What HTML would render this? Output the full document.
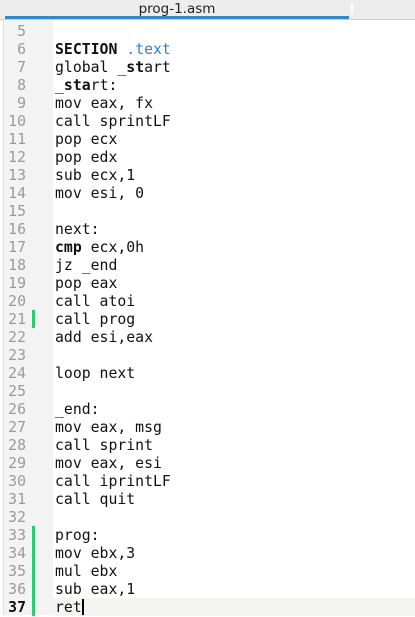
<!DOCTYPE html>
<html><head><style>
body{margin:0;width:415px;height:615px;overflow:hidden;background:#fff;position:relative;font-family:"DejaVu Sans Mono",monospace}
.tabbar{position:absolute;left:0;top:0;width:415px;height:19px;background:#ededed;border-bottom:1px solid #cfcfcf}
.tab{position:absolute;left:5px;top:0;width:344px;height:16px;border-bottom:3px solid #3288c8;box-sizing:content-box}
.title{position:absolute;left:0;width:344px;top:1px;text-align:center;font-family:"DejaVu Sans",sans-serif;font-size:13.5px;color:#222}
.sep{position:absolute;left:351px;top:4px;width:2px;height:10px;background:#fff}
.gutter{position:absolute;left:3px;top:20px;width:49px;height:595px;background:#f3f3f3;border-left:1px solid #ddd}
.row{position:absolute;left:0;height:18px;line-height:18px;width:415px;font-size:14.8px;white-space:pre}
.num{position:absolute;top:1px;right:389px;color:#9a9a9a;text-align:right}
.code{position:absolute;top:1px;left:55px;color:#111}
.mark{position:absolute;left:32px;top:0;width:3px;height:18px;background:#2ecc71}
b{font-weight:bold}
.blue{color:#2a7fd0}
.cur{background:#f5f4f3}
</style></head><body>
<div class="tabbar"><div class="tab"><div class="title">prog-1.asm</div></div><div class="sep"></div></div>
<div class="gutter"></div>
<div class="row" style="top:22px"><span class="num">5</span></div>
<div class="row" style="top:40px"><span class="num">6</span><span class="code"><b>SECTION</b> <span class="blue">.text</span></span></div>
<div class="row" style="top:58px"><span class="num">7</span><span class="code">global _<b>st</b>art</span></div>
<div class="row" style="top:76px"><span class="num">8</span><span class="code">_<b>sta</b>rt:</span></div>
<div class="row" style="top:94px"><span class="num">9</span><span class="code">mov eax, fx</span></div>
<div class="row" style="top:112px"><span class="num">10</span><span class="code">call sprintLF</span></div>
<div class="row" style="top:130px"><span class="num">11</span><span class="code">pop ecx</span></div>
<div class="row" style="top:148px"><span class="num">12</span><span class="code">pop edx</span></div>
<div class="row" style="top:166px"><span class="num">13</span><span class="code">sub ecx,1</span></div>
<div class="row" style="top:184px"><span class="num">14</span><span class="code">mov esi, 0</span></div>
<div class="row" style="top:202px"><span class="num">15</span></div>
<div class="row" style="top:220px"><span class="num">16</span><span class="code">next:</span></div>
<div class="row" style="top:238px"><span class="num">17</span><span class="code"><b>cmp</b> ecx,0h</span></div>
<div class="row" style="top:256px"><span class="num">18</span><span class="code">jz _end</span></div>
<div class="row" style="top:274px"><span class="num">19</span><span class="code">pop eax</span></div>
<div class="row" style="top:292px"><span class="num">20</span><span class="code">call atoi</span></div>
<div class="row" style="top:310px"><span class="num">21</span><span class="mark"></span><span class="code">call prog</span></div>
<div class="row" style="top:328px"><span class="num">22</span><span class="code">add esi,eax</span></div>
<div class="row" style="top:346px"><span class="num">23</span></div>
<div class="row" style="top:364px"><span class="num">24</span><span class="code">loop next</span></div>
<div class="row" style="top:382px"><span class="num">25</span></div>
<div class="row" style="top:400px"><span class="num">26</span><span class="code">_end:</span></div>
<div class="row" style="top:418px"><span class="num">27</span><span class="code">mov eax, msg</span></div>
<div class="row" style="top:436px"><span class="num">28</span><span class="code">call sprint</span></div>
<div class="row" style="top:454px"><span class="num">29</span><span class="code">mov eax, esi</span></div>
<div class="row" style="top:472px"><span class="num">30</span><span class="code">call iprintLF</span></div>
<div class="row" style="top:490px"><span class="num">31</span><span class="code">call quit</span></div>
<div class="row" style="top:508px"><span class="num">32</span></div>
<div class="row" style="top:526px"><span class="num">33</span><span class="mark"></span><span class="code">prog:</span></div>
<div class="row" style="top:544px"><span class="num">34</span><span class="mark"></span><span class="code">mov ebx,3</span></div>
<div class="row" style="top:562px"><span class="num">35</span><span class="mark"></span><span class="code">mul ebx</span></div>
<div class="row" style="top:580px"><span class="num">36</span><span class="mark"></span><span class="code">sub eax,1</span></div>
<div class="row" style="top:598px"><div class="cur" style="position:absolute;left:53px;top:0;width:362px;height:18px"></div><span class="num" style="color:#111;font-weight:bold">37</span><span class="mark"></span><span class="code">ret<span style="display:inline-block;width:2px;height:16px;background:#000;vertical-align:-3px"></span></span></div>
</body></html>
